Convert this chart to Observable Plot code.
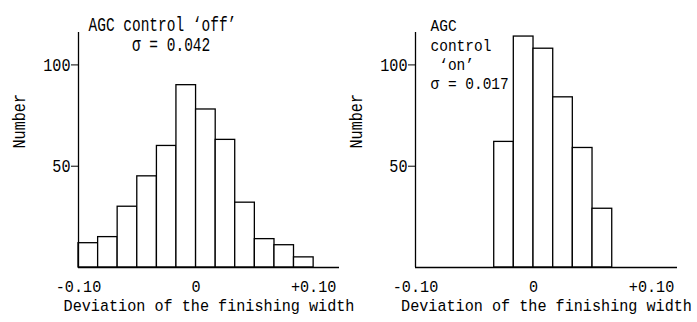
<!DOCTYPE html>
<html><head><meta charset="utf-8">
<script src="https://cdn.jsdelivr.net/npm/d3@7"></script>
<script src="https://cdn.jsdelivr.net/npm/@observablehq/plot@0.6"></script>
<style>
body{margin:0;background:#fff;}
#wrap{display:flex;width:697px;height:322px;background:#fff;}
#wrap svg{overflow:visible;}
</style></head><body><div id="wrap"></div>
<script>
// ---- data ----
const xTicks = [-0.1, 0, 0.1];
const xTickLabels = ["-0.10", "0", "+0.10"];
const yTicks = [50, 100];
const xDomain = [-0.1, 0.122];
const yDomain = [0, 116];

// AGC control 'off'
const offLo = [-0.1, -0.0833, -0.0667, -0.05, -0.0333, -0.0167, 0, 0.0167, 0.0333, 0.05, 0.0667, 0.0833];
const offHi = [-0.0833, -0.0667, -0.05, -0.0333, -0.0167, 0, 0.0167, 0.0333, 0.05, 0.0667, 0.0833, 0.1];
const offCount = [12, 15, 30, 45, 60, 90, 78, 63, 32, 14, 11, 5];

// AGC control 'on'
const onLo = [-0.0333, -0.0167, 0, 0.0167, 0.0333, 0.05];
const onHi = [-0.0167, 0, 0.0167, 0.0333, 0.05, 0.0667];
const onCount = [62, 114, 108, 84, 59, 29];

const titleOff = "AGC control ‘off’\n     σ = 0.042";
const titleOn = "AGC\ncontrol\n ‘on’\nσ = 0.017";
const yLabel = "Number";
const xLabel = "Deviation of the finishing width";

const FONT = "'Liberation Mono', monospace";
const CHAR_W = 9.1;       // target advance per character (condensed look)
const TITLE_CHAR_W = 8.7;

function panel({lo, hi, count, title, width, marginLeft, marginRight, titleDx, titleDy, titleSize, titleLH}) {
  const rows = lo.map((d, i) => ({x1: d, x2: hi[i], y: count[i]}));
  return Plot.plot({
    width, height: 322,
    marginLeft, marginRight, marginTop: 32, marginBottom: 55,
    style: {fontFamily: FONT, fontSize: "18px", color: "#000", background: "transparent", overflow: "visible"},
    x: {domain: xDomain, ticks: xTicks, tickFormat: (d, i) => xTickLabels[i]},
    y: {domain: yDomain, ticks: yTicks},
    marks: [
      Plot.rectY(rows, {x1: "x1", x2: "x2", y: "y", fill: "white", stroke: "black", strokeWidth: 1.3}),
      Plot.ruleY([yDomain[0]], {stroke: "black", strokeWidth: 1.3}),
      Plot.ruleX([xDomain[0]], {stroke: "black", strokeWidth: 1.3}),
      Plot.axisX({ticks: xTicks, tickFormat: (d, i) => xTickLabels[i], tickSize: 0, tickPadding: 13, label: null, fontSize: 16}),
      Plot.axisY({ticks: yTicks, tickSize: 7, tickPadding: 1, label: null, fontSize: 18}),
      Plot.text([yLabel], {frameAnchor: "left", rotate: -90, dx: -59, dy: -1.5, fontSize: 18}),
      Plot.text([xLabel], {frameAnchor: "bottom", dy: 38.4, fontSize: 16.5, lineAnchor: "middle"}),
      Plot.text([title], {frameAnchor: "top-left", textAnchor: "start", lineAnchor: "top", dx: titleDx, dy: titleDy, fontSize: titleSize, lineHeight: titleLH})
    ]
  });
}

// condense glyphs horizontally around each text's own anchor
function condense(svg) {
  svg.querySelectorAll("text").forEach(t => {
    const spans = t.querySelectorAll("tspan");
    const els = spans.length ? Array.from(spans) : [t];
    let maxRatio = 0;
    els.forEach(el => {
      const n = el.textContent.length;
      const len = el.getComputedTextLength();
      if (n > 0 && len > 0) maxRatio = Math.max(maxRatio, len / n);
    });
    if (!maxRatio) return;
    const isTitle = spans.length > 1;
    const f = (isTitle ? TITLE_CHAR_W : CHAR_W) / maxRatio;
    const hasXY = (+t.getAttribute("x") || 0) !== 0;
    if (!hasXY) {
      t.setAttribute("transform", ((t.getAttribute("transform") || "") + ` scale(${f.toFixed(3)},1)`).trim());
    } else {
      els.forEach(el => {
        el.setAttribute("textLength", (el.getComputedTextLength() * f).toFixed(2));
        el.setAttribute("lengthAdjust", "spacingAndGlyphs");
      });
    }
  });
}

const wrap = document.getElementById("wrap");
const p1 = panel({lo: offLo, hi: offHi, count: offCount, title: titleOff, width: 348, marginLeft: 78, marginRight: 9, titleDx: 10, titleDy: -16.7, titleSize: 20, titleLH: 1.04});
const p2 = panel({lo: onLo, hi: onHi, count: onCount, title: titleOn, width: 349, marginLeft: 67, marginRight: 20, titleDx: 15, titleDy: -14.8, titleSize: 17, titleLH: 1.135});
wrap.append(p1, p2);
condense(p1);
condense(p2);
</script></body></html>
